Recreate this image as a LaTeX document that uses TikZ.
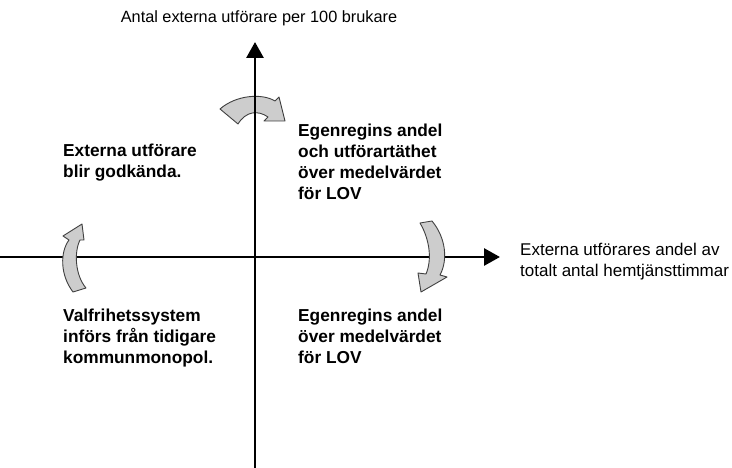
\documentclass[tikz,border=0pt]{standalone}
\usepackage{fontspec}
\setmainfont{Liberation Sans}
\usetikzlibrary{arrows.meta}
\definecolor{turnfill}{HTML}{CDCDCD}
\definecolor{turnline}{HTML}{404040}
\tikzset{
  axis/.style={line width=2.8pt, -{Triangle[length=16pt,width=17pt]}},
  turn/.style={fill=turnfill, draw=turnline, line width=0.9pt, line join=round},
  quad/.style={font=\fontsize{17.3}{21}\selectfont\bfseries, align=left,
    inner sep=0pt, anchor=north west},
  axlabel/.style={font=\fontsize{16.3}{21}\selectfont, align=left, inner sep=0pt},
}
\begin{document}
\begin{tikzpicture}[x=1pt,y=-1pt]
\useasboundingbox[fill=white] (0,0) rectangle (732,468);

% axis end points
\coordinate (xstart) at (0,257);
\coordinate (xend) at (500,257);
\coordinate (ystart) at (255,468);
\coordinate (yend) at (255,42);

% horizontal axis
\draw[axis] (xstart) -- (xend);

% turning arrows
\path[turn] (220,109) .. controls (236,95) and (262,93) .. (275,101)
  -- (279,97) -- (285,121) -- (264,121) -- (268,117)
  .. controls (258,110) and (246,111) .. (238,124) -- cycle;
\path[turn] (420,223) -- (432,221) .. controls (446,238) and (448,260) .. (440,275)
  -- (447,277) -- (421,292) -- (418,273) -- (426,274)
  .. controls (432,260) and (430,240) .. (420,223) -- cycle;
\path[turn] (73,292) .. controls (60,275) and (60,252) .. (69,240)
  -- (63,236) -- (82,224) -- (84,240) -- (80,240)
  .. controls (74,252) and (75,275) .. (86,288) -- cycle;

% vertical axis
\draw[axis] (ystart) -- (yend);

% axis labels
\node[axlabel, anchor=base] (ylabel) at (259,23) {Antal externa utförare per 100 brukare};
\node[axlabel, font=\fontsize{17}{21}\selectfont, anchor=north west] (xlabel) at (520,240.3)
  {\strut Externa utförares andel av\\totalt antal hemtjänsttimmar};

% quadrant texts
\node[quad] (tl) at (63,141.3) {\strut Externa utförare\\blir godkända.};
\node[quad] (tr) at (298,121.3) {\strut Egenregins andel\\och utförartäthet\\över medelvärdet\\för LOV};
\node[quad] (bl) at (63,306.3) {\strut Valfrihetssystem\\införs från tidigare\\kommunmonopol.};
\node[quad] (br) at (298,306.3) {\strut Egenregins andel\\över medelvärdet\\för LOV};
\end{tikzpicture}
\end{document}
